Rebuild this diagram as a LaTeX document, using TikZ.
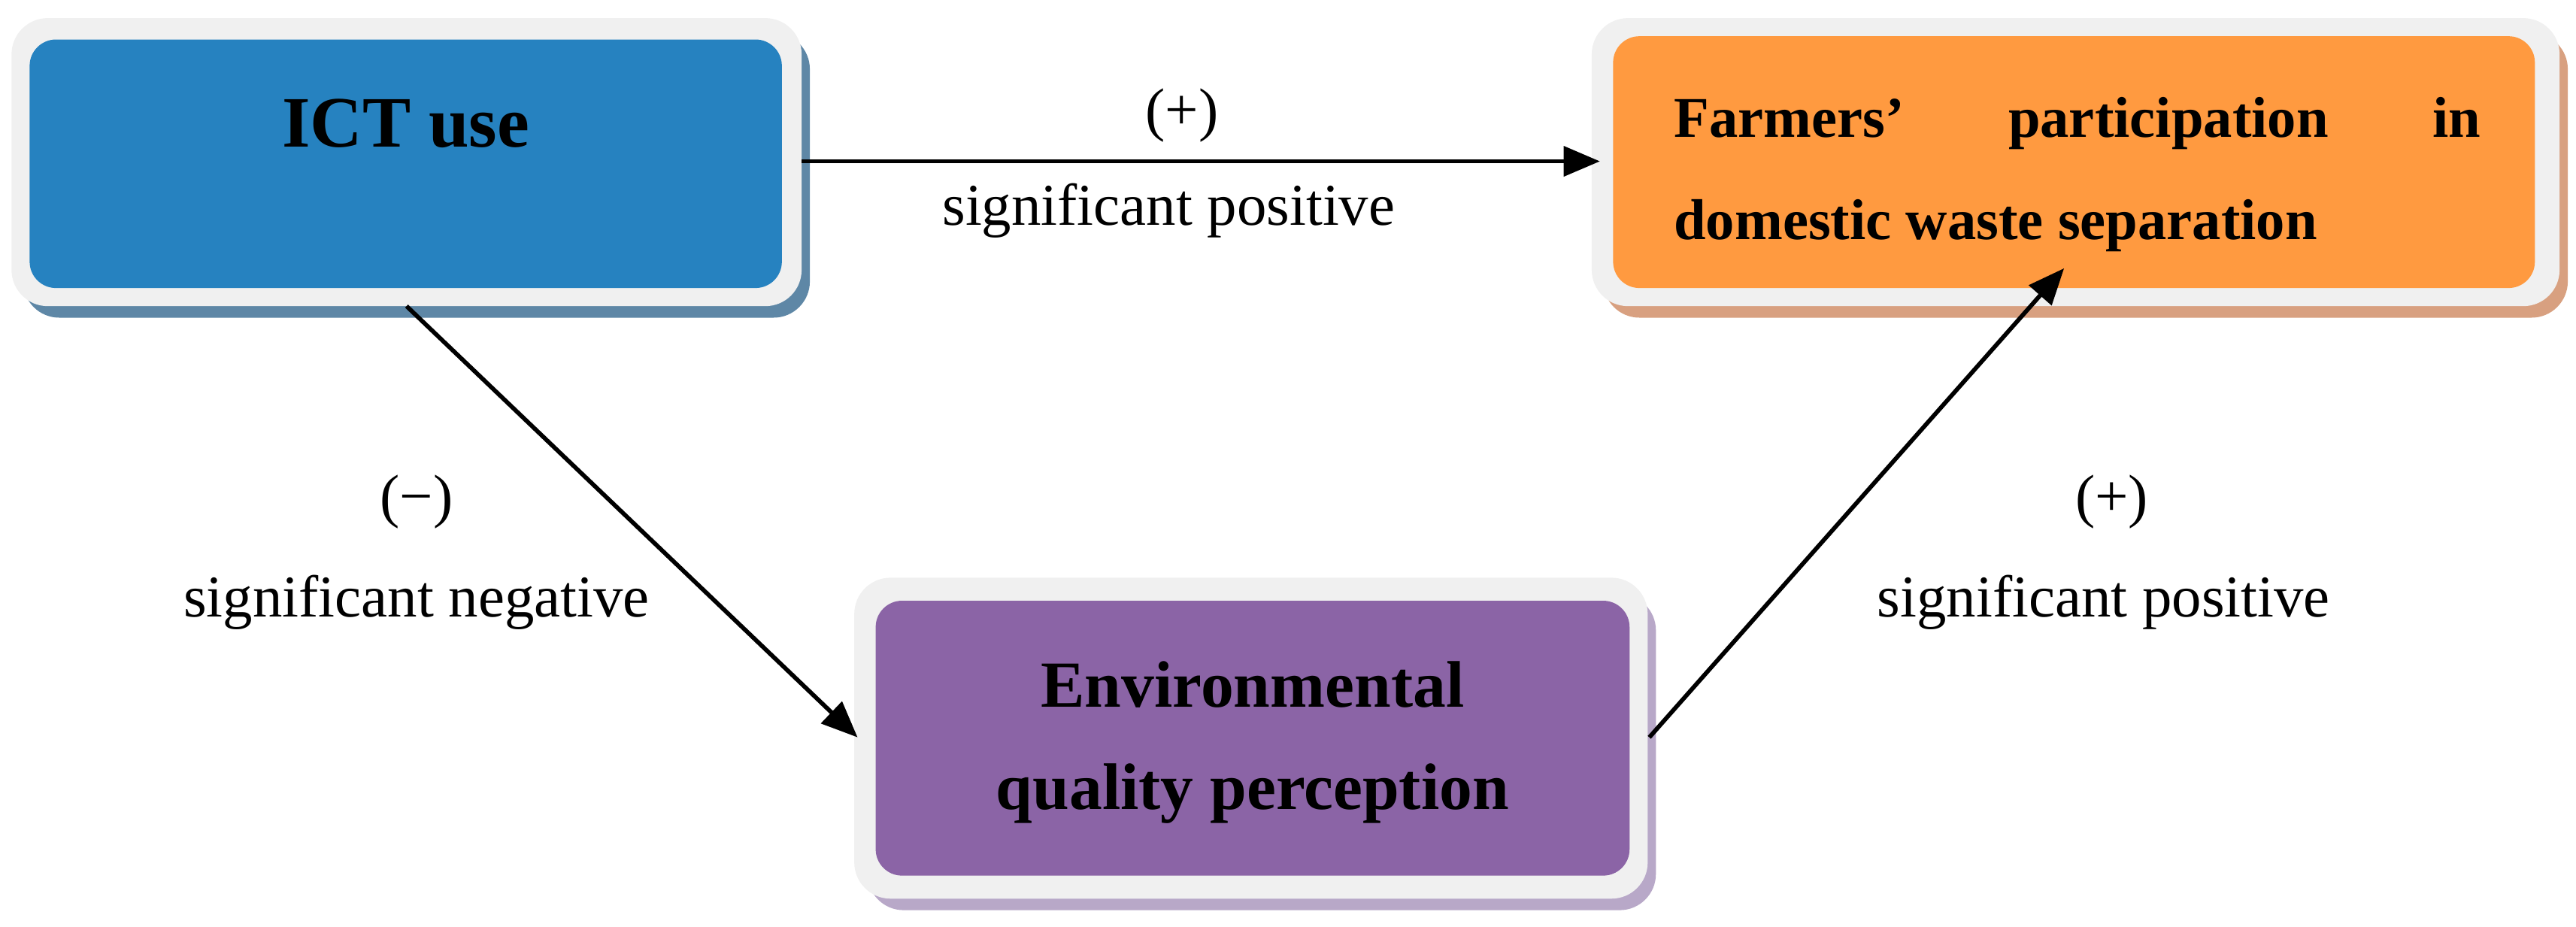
\documentclass[tikz,border=0pt]{standalone}
\usepackage{fontspec}
\setmainfont{Liberation Serif}
\usetikzlibrary{arrows.meta}
\definecolor{ictblue}{HTML}{2682C0}
\definecolor{ictshadow}{HTML}{5E87A6}
\definecolor{farmor}{HTML}{FF9A40}
\definecolor{farmshadow}{HTML}{D8A080}
\definecolor{envpur}{HTML}{8B64A6}
\definecolor{envshadow}{HTML}{B8A8C8}
\definecolor{framegrey}{HTML}{F0F0F0}
\tikzset{
  frame/.style={fill=framegrey, rounded corners=22pt, draw=none},
  inner/.style={rounded corners=16pt, draw=none},
  lbl/.style={font=\fontsize{36}{42}\selectfont, align=center},
  arr/.style={line width=2.6pt, -{Triangle[length=22pt,width=18pt]}},
}
\begin{document}
\begin{tikzpicture}[x=1pt,y=1pt]
\useasboundingbox (0,0) rectangle (1565,-563);
% ICT
\fill[ictshadow, rounded corners=22pt] (14,-20) rectangle (492,-193);
\fill[frame] (7,-11) rectangle (487,-186);
\node[inner, fill=ictblue, minimum width=457pt, minimum height=151pt] (ict) at (246.5,-99.5) {};
\node[font=\fontsize{44}{50}\selectfont\bfseries] (ictt) at (246.5,-75) {ICT use};
% Farmers
\fill[farmshadow, rounded corners=22pt] (974,-20) rectangle (1560,-193);
\fill[frame] (967,-11) rectangle (1555,-186);
\node[inner, fill=farmor, minimum width=560pt, minimum height=153pt] (farm) at (1260,-98.5) {};
\node[font=\fontsize{35}{62}\selectfont\bfseries, text width=490pt, align=justify, inner sep=0pt] (farmt) at (1262,-106)
 {Farmers'\hfill participation\hfill in\\domestic waste separation};
% Env
\fill[envshadow, rounded corners=22pt] (527,-361) rectangle (1006,-553);
\fill[frame] (519,-351) rectangle (1001,-546);
\node[inner, fill=envpur, minimum width=458pt, minimum height=167pt] (env) at (761,-448.5) {};
\node[font=\fontsize{40}{62}\selectfont\bfseries, align=center] (envt) at (761,-451) {Environmental\\quality perception};
% arrows
\coordinate (a1s) at (487,-98);
\coordinate (a1e) at (972,-98);
\draw[arr] (a1s) -- (a1e);
\coordinate (a2s) at (247,-186);
\coordinate (a2e) at (521,-448);
\draw[arr] (a2s) -- (a2e);
\coordinate (a3s) at (1002,-448);
\coordinate (a3e) at (1254,-163);
\draw[arr] (a3s) -- (a3e);
% labels
\node[lbl] (l1a) at (718,-70) {(+)};
\node[lbl] (l1b) at (710,-128) {significant positive};
\node[lbl] (l2a) at (253,-305) {(−)};
\node[lbl] (l2b) at (253,-366) {significant negative};
\node[lbl] (l3a) at (1283,-305) {(+)};
\node[lbl] (l3b) at (1278,-366) {significant positive};
\end{tikzpicture}
\end{document}
